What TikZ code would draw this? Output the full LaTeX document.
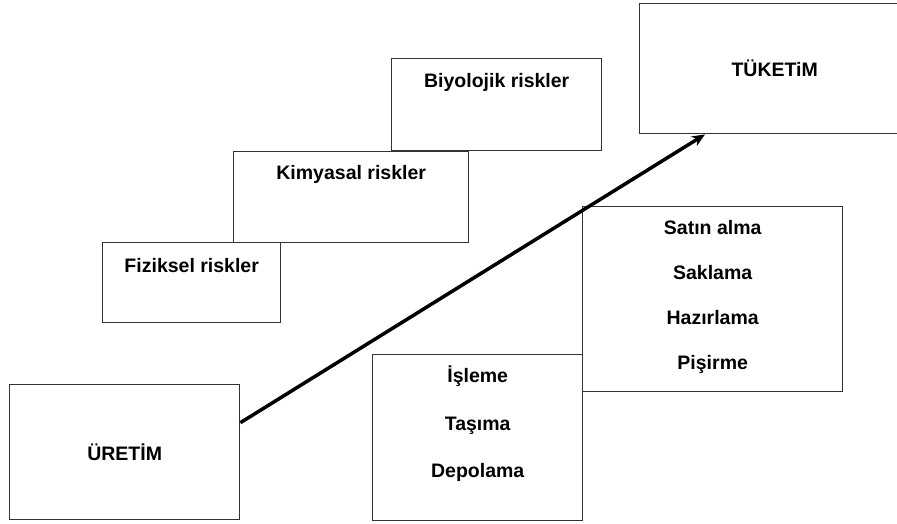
\documentclass[tikz,border=0pt]{standalone}
\usepackage{fontspec}
\setmainfont{Liberation Sans}
\usetikzlibrary{arrows.meta,calc,positioning}

\begin{document}
\begin{tikzpicture}[x=1pt,y=-1pt,
  box/.style={draw=black!80,line width=1.4pt,rectangle,inner sep=0pt,anchor=north west,
    font=\bfseries\fontsize{19.5}{23}\selectfont,align=center}]
  \useasboundingbox (0,0) rectangle (897,524);
  \foreach \x/\y/\w/\h/\th/\td/\name/\txt in {102/242/178/80/30/50/fiz/Fiziksel riskler,
      233/151/235/91/28/63/kim/Kimyasal riskler,391/58/210/92/29/63/bio/Biyolojik riskler}{
    \node[box,minimum width=\w,minimum height=\h,text height=\th pt,text depth=\td pt] (\name) at (\x,\y) {\txt};
  }
  \node[box,minimum width=230,minimum height=135] (ure) at (9,384) {ÜRETİM};
  \node[box,minimum width=270,minimum height=130] (tuk) at (639,3) {TÜKETiM};
  \node[box,minimum width=210,minimum height=166,text height=123pt,text depth=43pt,
    font=\bfseries\fontsize{19.5}{47.5}\selectfont] (isl) at (372,354) {İşleme\\Taşıma\\Depolama};
  \node[box,minimum width=260,minimum height=185,text height=163pt,text depth=22pt,
    font=\bfseries\fontsize{19.5}{45}\selectfont] (sat) at (582,206) {Satın alma\\Saklama\\Hazırlama\\Pişirme};
  \draw[line width=3.5pt,-{Stealth[length=13pt,width=11pt]}] ($(ure.east)+(0,-29.5)$) -- ($(tuk.south west)+(66,0)$);
\end{tikzpicture}
\end{document}
